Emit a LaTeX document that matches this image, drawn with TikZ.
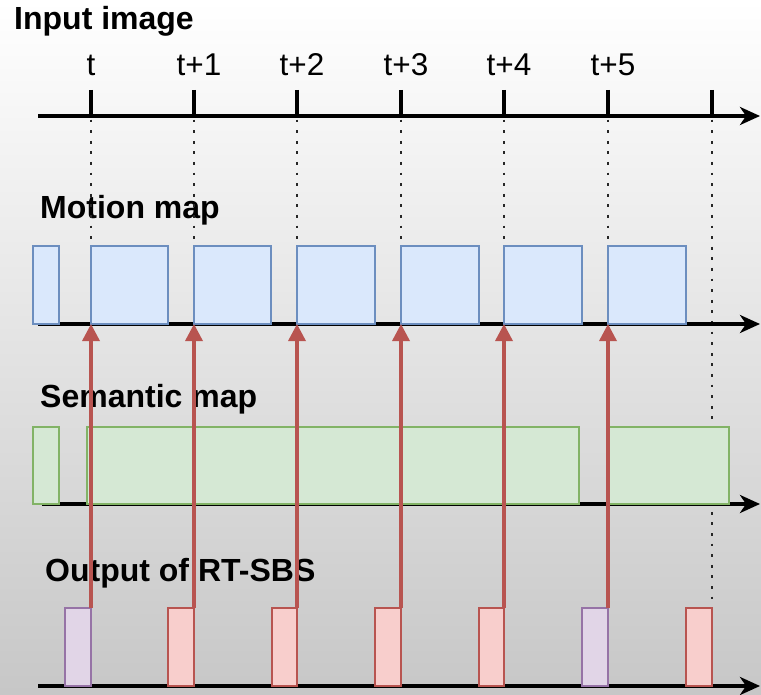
\documentclass[tikz,border=0pt]{standalone}
\usepackage{fontspec}
\setmainfont{Liberation Sans}
\usetikzlibrary{arrows.meta}
\definecolor{bluef}{HTML}{DAE8FC}
\definecolor{blued}{HTML}{6C8EBF}
\definecolor{greenf}{HTML}{D5E8D4}
\definecolor{greend}{HTML}{82B366}
\definecolor{redf}{HTML}{F8CECC}
\definecolor{redd}{HTML}{B85450}
\definecolor{purf}{HTML}{E1D5E7}
\definecolor{purd}{HTML}{9673A6}
\begin{document}
\begin{tikzpicture}[x=1pt,y=-1pt,
  axisline/.style={line width=4.5pt,-{Stealth[length=20pt,width=18pt,inset=6pt]}},
  tickline/.style={line width=4.5pt},
  dotline/.style={line width=2.8pt,black!85,dash pattern=on 2.8pt off 7.8pt},
  boxbase/.style={inner sep=0pt,outer sep=0pt,line width=1.5pt,anchor=south west},
  mbox/.style={boxbase,draw=blued,fill=bluef,minimum height=78pt},
  sbox/.style={boxbase,draw=greend,fill=greenf,minimum height=77pt},
  rbox/.style={boxbase,draw=redd,fill=redf,minimum height=78pt},
  pbox/.style={boxbase,draw=purd,fill=purf,minimum height=78pt},
  redarrow/.style={line width=3.4pt,redd,-{Triangle[length=17pt,width=17pt]}},
  title/.style={font=\fontsize{32}{38}\selectfont\bfseries,anchor=base west,inner sep=0pt},
  ticklbl/.style={font=\fontsize{31.5}{38}\selectfont,anchor=base,inner sep=0pt}
]
\useasboundingbox (0,0) rectangle (761,695);
\shade[top color=white,bottom color=black!22] (0,0) rectangle (761,695);

% titles
\node[title] (tin) at (14,30) {Input image};
\node[title] (tmo) at (40,219) {Motion map};
\node[title] (tse) at (40,407) {Semantic map};
\node[title] (tou) at (45,581) {Output of RT-SBS};

% tick labels
\node[ticklbl] (l0) at (91,76) {t};
\node[ticklbl] (l1) at (199,76) {t+1};
\node[ticklbl] (l2) at (302,76) {t+2};
\node[ticklbl] (l3) at (406,76) {t+3};
\node[ticklbl] (l4) at (509,76) {t+4};
\node[ticklbl] (l5) at (613,76) {t+5};

% coordinates
\foreach \i/\x in {0/91,1/194,2/297,3/401,4/504,5/608,6/712}{
  \coordinate (tt\i) at (\x,90);
  \coordinate (tb\i) at (\x,116);
  \coordinate (bb\i) at (\x,686);
}
\coordinate (a0s) at (38,116);  \coordinate (a0e) at (760,116);
\coordinate (a1s) at (38,324);  \coordinate (a1e) at (760,324);
\coordinate (a2s) at (42,504);  \coordinate (a2e) at (760,504);
\coordinate (a3s) at (38,686);  \coordinate (a3e) at (760,686);

% dotted guides
\foreach \i in {0,...,6}{
  \draw[dotline] ([yshift=7pt]tb\i) -- (bb\i);
}

% axes
\draw[axisline] (a0s) -- (a0e);
\draw[axisline] (a1s) -- (a1e);
\draw[axisline] (a2s) -- (a2e);
\draw[axisline] (a3s) -- (a3e);
\foreach \i in {0,...,6}{
  \draw[tickline] (tt\i) -- (tb\i);
}

% motion map boxes
\node[mbox,minimum width=26pt] (m0) at (33,324) {};
\node[mbox,minimum width=77pt] (m1) at (91,324) {};
\node[mbox,minimum width=77pt] (m2) at (194,324) {};
\node[mbox,minimum width=78pt] (m3) at (297,324) {};
\node[mbox,minimum width=78pt] (m4) at (401,324) {};
\node[mbox,minimum width=78pt] (m5) at (504,324) {};
\node[mbox,minimum width=78pt] (m6) at (608,324) {};

% semantic map boxes
\node[sbox,minimum width=26pt] (s0) at (33,504) {};
\node[sbox,minimum width=492pt] (s1) at (87,504) {};
\node[sbox,minimum width=120pt] (s2) at (609,504) {};

% output boxes
\node[pbox,minimum width=26pt] (o1) at (65,686) {};
\node[rbox,minimum width=26pt] (o2) at (168,686) {};
\node[rbox,minimum width=25pt] (o3) at (272,686) {};
\node[rbox,minimum width=26pt] (o4) at (375,686) {};
\node[rbox,minimum width=25pt] (o5) at (479,686) {};
\node[pbox,minimum width=26pt] (o6) at (582,686) {};
\node[rbox,minimum width=26pt] (o7) at (686,686) {};

% red arrows
\draw[redarrow] (o1.north east) -- (m1.south west);
\draw[redarrow] (o2.north east) -- (m2.south west);
\draw[redarrow] (o3.north east) -- (m3.south west);
\draw[redarrow] (o4.north east) -- (m4.south west);
\draw[redarrow] (o5.north east) -- (m5.south west);
\draw[redarrow] (o6.north east) -- (m6.south west);
\end{tikzpicture}
\end{document}
